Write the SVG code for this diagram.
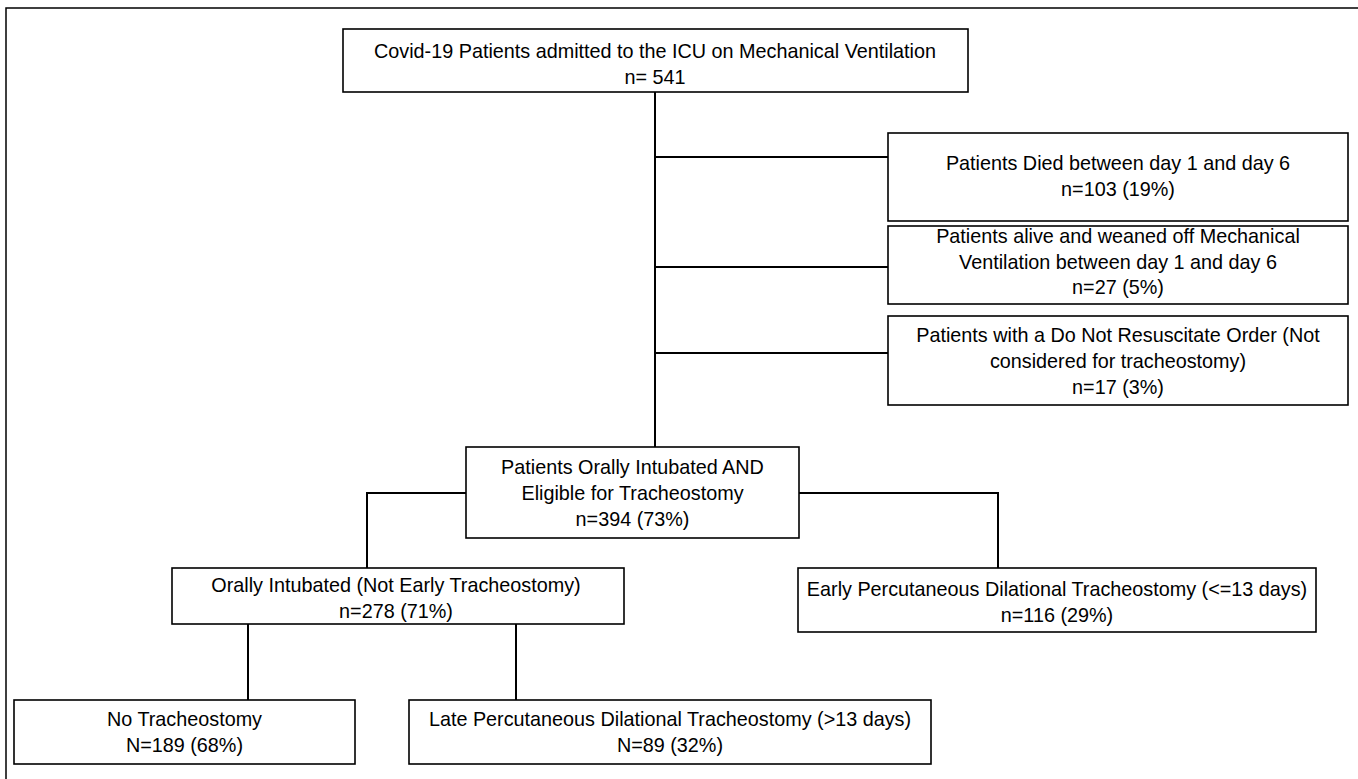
<svg xmlns="http://www.w3.org/2000/svg" width="1358" height="779" viewBox="0 0 1358 779">
<style>
.box{fill:#fff;stroke:#000;stroke-width:1.6}
.t{font-family:"Liberation Sans",Arial,sans-serif;font-size:19.8px;fill:#000;text-anchor:middle}
.c{fill:none;stroke:#000;stroke-width:2}
.frame{fill:none;stroke:#000;stroke-width:1.5}
</style>
<rect width="1358" height="779" fill="#fff"/>
<path class="frame" d="M6,790 V8 H1370"/>
<g id="connectors">
<path class="c" d="M655,92 V447"/>
<path class="c" d="M655,157 H888"/>
<path class="c" d="M655,267 H888"/>
<path class="c" d="M655,353 H888"/>
<path class="c" d="M466,493 H367 V568"/>
<path class="c" d="M799,493 H998 V568"/>
<path class="c" d="M248,624 V700"/>
<path class="c" d="M516,624 V700"/>
</g>
<g id="n_top">
<rect class="box" x="343" y="29" width="625" height="63"/>
<text class="t" x="655" y="58">Covid-19 Patients admitted to the ICU on Mechanical Ventilation</text>
<text class="t" x="655" y="84">n= 541</text>
</g>
<g id="n_died">
<rect class="box" x="888" y="133" width="460" height="88"/>
<text class="t" x="1118" y="170">Patients Died between day 1 and day 6</text>
<text class="t" x="1118" y="196">n=103 (19%)</text>
</g>
<g id="n_weaned">
<rect class="box" x="888" y="226" width="460" height="78"/>
<text class="t" x="1118" y="243">Patients alive and weaned off Mechanical</text>
<text class="t" x="1118" y="269">Ventilation between day 1 and day 6</text>
<text class="t" x="1118" y="294">n=27 (5%)</text>
</g>
<g id="n_dnr">
<rect class="box" x="888" y="316" width="460" height="89"/>
<text class="t" x="1118" y="342">Patients with a Do Not Resuscitate Order (Not</text>
<text class="t" x="1118" y="368">considered for tracheostomy)</text>
<text class="t" x="1118" y="394">n=17 (3%)</text>
</g>
<g id="n_eligible">
<rect class="box" x="466" y="447" width="333" height="91"/>
<text class="t" x="632.5" y="474">Patients Orally Intubated AND</text>
<text class="t" x="632.5" y="500">Eligible for Tracheostomy</text>
<text class="t" x="632.5" y="526">n=394 (73%)</text>
</g>
<g id="n_oral">
<rect class="box" x="172" y="568" width="452" height="56"/>
<text class="t" x="396" y="592">Orally Intubated (Not Early Tracheostomy)</text>
<text class="t" x="396" y="618">n=278 (71%)</text>
</g>
<g id="n_early">
<rect class="box" x="798" y="568" width="518" height="64"/>
<text class="t" x="1057" y="596">Early Percutaneous Dilational Tracheostomy (&lt;=13 days)</text>
<text class="t" x="1057" y="622">n=116 (29%)</text>
</g>
<g id="n_notrach">
<rect class="box" x="14" y="700" width="341" height="64"/>
<text class="t" x="184.5" y="726">No Tracheostomy</text>
<text class="t" x="184.5" y="752">N=189 (68%)</text>
</g>
<g id="n_late">
<rect class="box" x="409" y="700" width="522" height="64"/>
<text class="t" x="670" y="726">Late Percutaneous Dilational Tracheostomy (&gt;13 days)</text>
<text class="t" x="670" y="752">N=89 (32%)</text>
</g>
</svg>
